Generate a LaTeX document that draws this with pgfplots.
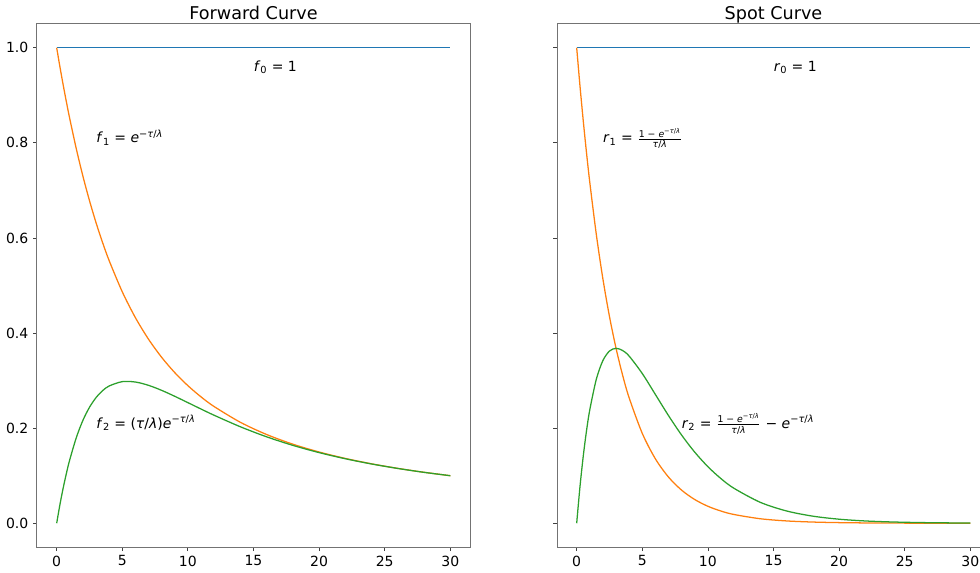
\documentclass[border=0pt]{standalone}
\usepackage{pgfplots}
\usepackage{pgfplotstable}
\pgfplotsset{compat=1.18}
\usepackage{fontspec}
\setmainfont{DejaVu Sans}

\definecolor{mplblue}{HTML}{1F77B4}
\definecolor{mplorange}{HTML}{FF7F0E}
\definecolor{mplgreen}{HTML}{2CA02C}

\pgfplotstableread{
tau   f0  f1       f2
0     1   1.00000  0.00000
0.25  1   0.95954  0.03950
0.5   1   0.92112  0.07464
0.75  1   0.88480  0.10600
1     1   0.85041  0.13388
1.5   1   0.78694  0.18041
2     1   0.72987  0.21645
2.5   1   0.67848  0.24388
3     1   0.63212  0.26424
3.5   1   0.59023  0.27883
4     1   0.55230  0.28870
5     1   0.48667  0.29779
6     1   0.43233  0.29699
7     1   0.38701  0.29004
8     1   0.34895  0.27947
9     1   0.31674  0.26695
10    1   0.28930  0.25363
11    1   0.26576  0.24020
12    1   0.24542  0.22710
14    1   0.21227  0.20287
16    1   0.18660  0.18177
18    1   0.16625  0.16377
20    1   0.14981  0.14854
22    1   0.13628  0.13563
24    1   0.12496  0.12462
26    1   0.11537  0.11520
28    1   0.10713  0.10704
30    1   0.10000  0.09995
}\forwardtable

\pgfplotstableread{
tau   r0  r1       r2
0     1   1.00000  0.00000
0.25  1   0.92004  0.07667
0.5   1   0.84648  0.14108
0.75  1   0.77880  0.19470
1     1   0.71653  0.23884
1.5   1   0.60653  0.30327
2     1   0.51342  0.34228
2.5   1   0.43460  0.36217
3     1   0.36788  0.36788
3.5   1   0.31140  0.36330
4     1   0.26360  0.35147
5     1   0.18888  0.31480
6     1   0.13534  0.27067
7     1   0.09697  0.22627
8     1   0.06948  0.18528
9     1   0.04979  0.14936
10    1   0.03567  0.11891
11    1   0.02556  0.09372
12    1   0.01832  0.07326
14    1   0.00940  0.04387
16    1   0.00483  0.02576
18    1   0.00248  0.01487
20    1   0.00127  0.00847
22    1   0.00065  0.00477
24    1   0.00034  0.00268
26    1   0.00017  0.00149
28    1   0.00009  0.00082
30    1   0.00005  0.00045
}\spottable

\newcommand{\fr}[2]{$\frac{\mbox{\scriptsize #1}}{\mbox{\scriptsize #2}}$}
\newcommand{\ex}{\textit{e}\textsuperscript{−\textit{τ}/\textit{λ}}}

\tikzset{anno/.style={anchor=base west, inner sep=0pt, font=\fontsize{10.5}{12}\selectfont}}

\begin{document}
\begin{tikzpicture}
\pgfplotsset{
  every axis title/.style={at={(0.5,1)}, anchor=base, yshift=3pt, inner sep=0pt, font=\fontsize{13.2}{15}\selectfont},
  myax/.style={
    scale only axis, width=324.75pt, height=392.25pt,
    xmin=-1.5, xmax=31.5, ymin=-0.05, ymax=1.05,
    xtick={0,5,10,15,20,25,30}, ytick={0,0.2,0.4,0.6,0.8,1.0},
    xtick pos=left, ytick pos=left,
    tick align=outside, major tick length=3pt,
    axis line style={black!55, line width=0.75pt},
    tick style={black!75, line width=0.6pt},
    ticklabel style={font=\fontsize{10.5}{12}\selectfont},
    /pgf/number format/assume math mode=true,
    yticklabel style={/pgf/number format/.cd, fixed, fixed zerofill, precision=1},
    every axis plot/.append style={line width=0.95pt, no markers},
    clip=false,
  },
}
\begin{axis}[myax, at={(27.75pt,18.75pt)}, anchor=south west, title={Forward Curve}]
  \addplot[color=mplblue] table[x=tau, y=f0] {\forwardtable};
  \addplot[color=mplorange, smooth] table[x=tau, y=f1] {\forwardtable};
  \addplot[color=mplgreen, smooth] table[x=tau, y=f2] {\forwardtable};
  \node[anno] at (axis cs:15,0.95) {\textit{f}\textsubscript{0} = 1};
  \node[anno] at (axis cs:3,0.8) {\textit{f}\textsubscript{1} = \ex};
  \node[anno] at (axis cs:3,0.2) {\textit{f}\textsubscript{2} = (\textit{τ}/\textit{λ})\ex};
\end{axis}
\begin{axis}[myax, at={(417.75pt,18.75pt)}, anchor=south west, title={Spot Curve}, yticklabels={}]
  \addplot[color=mplblue] table[x=tau, y=r0] {\spottable};
  \addplot[color=mplorange, smooth] table[x=tau, y=r1] {\spottable};
  \addplot[color=mplgreen, smooth] table[x=tau, y=r2] {\spottable};
  \node[anno] at (axis cs:15,0.95) {\textit{r}\textsubscript{0} = 1};
  \node[anno] at (axis cs:2,0.8) {\textit{r}\textsubscript{1} = \fr{1 − \ex}{\textit{τ}/\textit{λ}}};
  \node[anno] at (axis cs:8,0.2) {\textit{r}\textsubscript{2} = \fr{1 − \ex}{\textit{τ}/\textit{λ}} − \ex};
\end{axis}
\pgfresetboundingbox
\path[use as bounding box] (0,0) rectangle (735pt,429pt);
\end{tikzpicture}
\end{document}
